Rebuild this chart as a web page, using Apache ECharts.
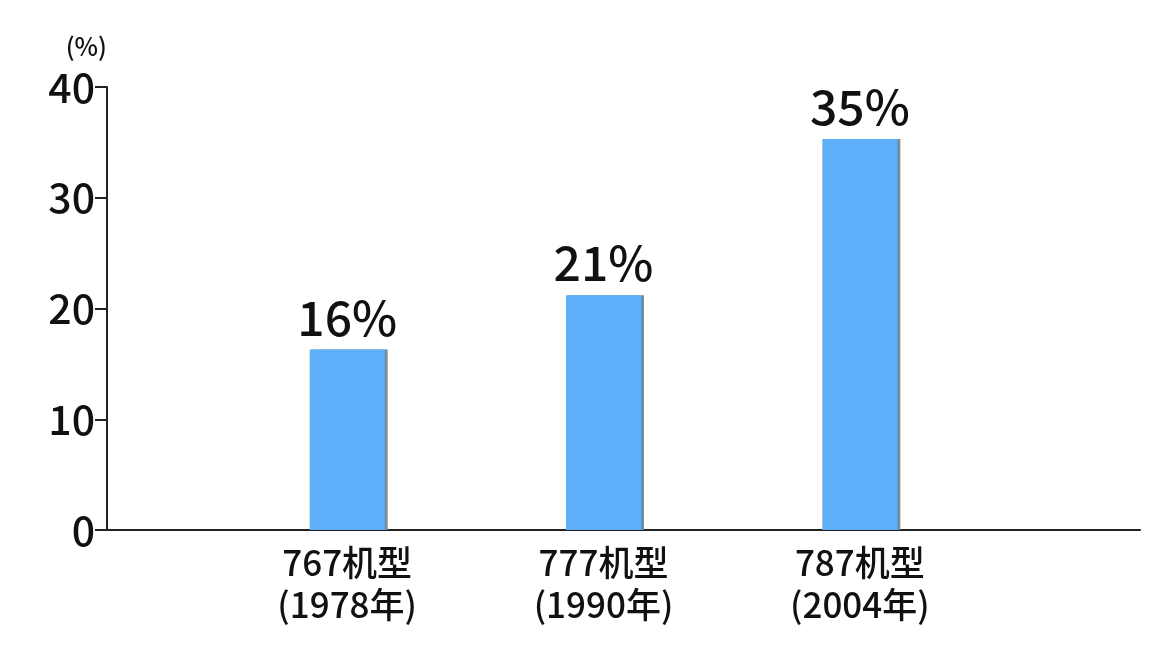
<!DOCTYPE html>
<html><head><meta charset="utf-8">
<script src="https://cdn.jsdelivr.net/npm/echarts@6/dist/echarts.min.js"></script>
<style>html,body{margin:0;background:#fff}#main{width:1160px;height:667px}</style>
</head><body><div id="main"></div>
<script>
const categories = ["767机型\n(1978年)", "777机型\n(1990年)", "787机型\n(2004年)"];
const values = [16.3, 21.2, 35.3];
const valueLabels = ["16%", "21%", "35%"];
const yTicks = [0, 10, 20, 30, 40];

const font = "'Noto Sans CJK SC', 'Noto Sans', sans-serif";
const chart = echarts.init(document.getElementById("main"));
chart.setOption({
  animation: false,
  grid: [
    { left: 107, right: 20, top: 87, bottom: 137 },
    { left: 219, right: 172, top: 87, bottom: 137 }
  ],
  xAxis: [
    { gridIndex: 0, type: "value", min: 0, max: 1, axisLine: { show: true, lineStyle: { color: "#222", width: 2 } },
      axisTick: { show: false }, axisLabel: { show: false }, splitLine: { show: false } },
    { gridIndex: 1, type: "category", data: categories, axisLine: { show: false }, axisTick: { show: false },
      axisLabel: { color: "#111", fontSize: 35, fontWeight: 500, fontFamily: font, lineHeight: 42, margin: 12 } }
  ],
  yAxis: [
    { gridIndex: 0, type: "value", min: yTicks[0], max: yTicks[yTicks.length - 1], interval: 10,
      name: "(%)", nameLocation: "end", nameGap: 28,
      nameTextStyle: { color: "#111", fontSize: 25, fontWeight: 500, fontFamily: font, align: "right", padding: [0, 0, 0, 0] },
      axisLine: { show: true, lineStyle: { color: "#222", width: 2 } },
      axisTick: { show: true, length: 12, lineStyle: { color: "#222", width: 2 } },
      axisLabel: { color: "#111", fontSize: 41, fontWeight: 500, fontFamily: font, margin: 12 },
      splitLine: { show: false } },
    { gridIndex: 1, type: "value", min: 0, max: 40, show: false }
  ],
  series: [{
    type: "bar", xAxisIndex: 1, yAxisIndex: 1, data: values, barWidth: 75,
    itemStyle: { color: "#5cb0fa", shadowColor: "#888", shadowOffsetX: 3, shadowBlur: 0 },
    label: { show: true, position: "top", distance: 8, color: "#111", fontSize: 48, fontWeight: 500, fontFamily: font,
      formatter: p => valueLabels[p.dataIndex] }
  }]
});
</script></body></html>
